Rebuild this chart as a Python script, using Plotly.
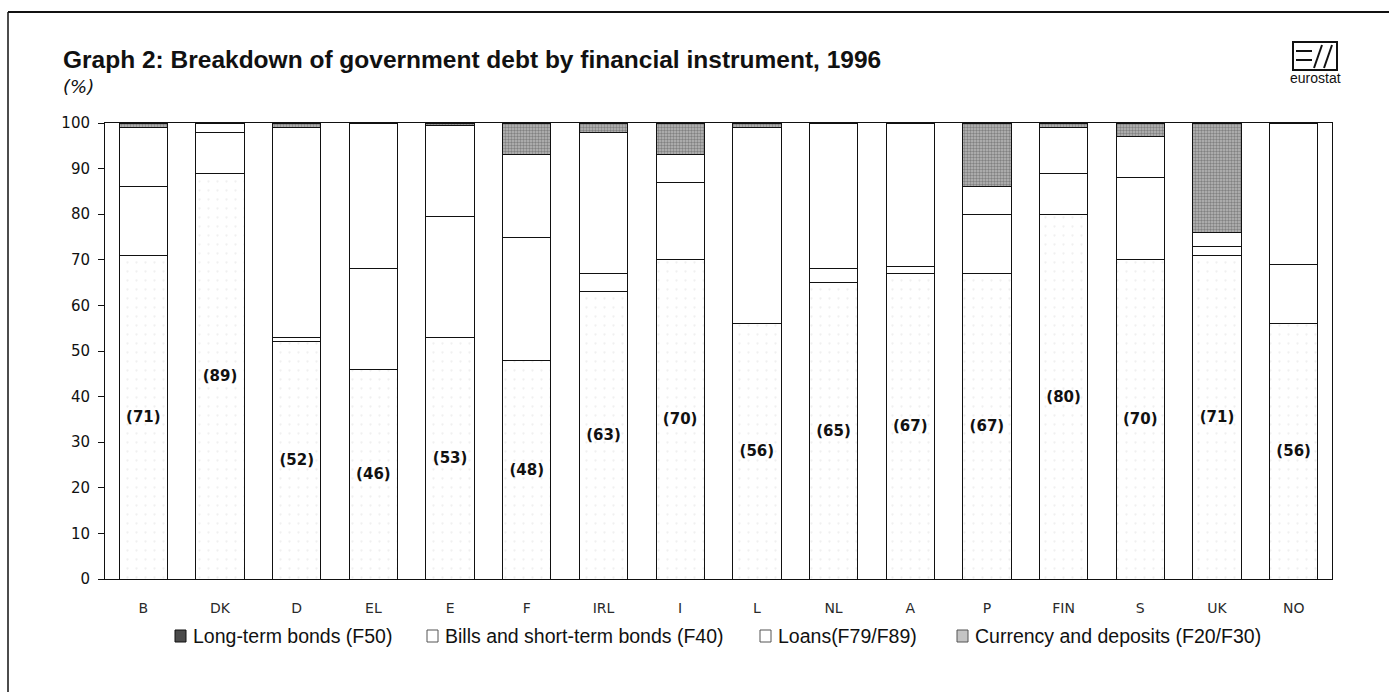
import plotly.graph_objects as go

# Government debt by financial instrument, 1996 (% of total)
countries = ["B", "DK", "D", "EL", "E", "F", "IRL", "I", "L", "NL", "A", "P", "FIN", "S", "UK", "NO"]
long_term_bonds = [71, 89, 52, 46, 53, 48, 63, 70, 56, 65, 67, 67, 80, 70, 71, 56]
bills_short_term = [15, 9, 1, 22, 26.5, 27, 4, 17, 0, 3, 1.5, 13, 9, 18, 2, 13]
loans = [13, 2, 46, 32, 20, 18, 31, 6, 43, 32, 31.5, 6, 10, 9, 3, 31]
currency_deposits = [1, 0, 1, 0, 0.5, 7, 2, 7, 1, 0, 0, 14, 1, 3, 24, 0]

legend_names = [
    "Long-term bonds (F50)",
    "Bills and short-term bonds (F40)",
    "Loans(F79/F89)",
    "Currency and deposits (F20/F30)",
]

W, H = 1389, 693
L, R, T, B = 105, 57, 123, 114
PW, PH = W - L - R, H - T - B


def px(x):
    return (x - L) / PW


def py(y):
    return (H - B - y) / PH


INK = "#111111"
outline = dict(color=INK, width=1)
ltb_pattern = dict(shape=".", fgcolor="#e2e2e2", bgcolor="white", size=9, solidity=0.05)
cur_pattern = dict(shape=".", fgcolor="#4a4a4a", bgcolor="#b8b8b8", size=3, solidity=0.5)

fig = go.Figure()

fig.add_trace(go.Bar(
    x=countries, y=long_term_bonds, name=legend_names[0],
    marker=dict(color="white", line=outline, pattern=ltb_pattern),
    text=[f"({v})" for v in long_term_bonds], textposition="inside",
    insidetextanchor="middle", textangle=0,
    textfont=dict(family="DejaVu Sans", size=15, color=INK, weight="bold"),
))
fig.add_trace(go.Bar(
    x=countries, y=bills_short_term, name=legend_names[1],
    marker=dict(color="white", line=outline),
))
fig.add_trace(go.Bar(
    x=countries, y=loans, name=legend_names[2],
    marker=dict(color="white", line=outline),
))
fig.add_trace(go.Bar(
    x=countries, y=currency_deposits, name=legend_names[3],
    marker=dict(color="#b0b0b0", line=outline, pattern=cur_pattern),
))

shapes = [
    # page frame
    dict(type="line", x0=px(8), x1=px(1389), y0=py(12), y1=py(12), line=dict(color=INK, width=2)),
    dict(type="line", x0=px(8), x1=px(8), y0=py(12), y1=py(692), line=dict(color=INK, width=1.5)),
    # eurostat logo
    dict(type="rect", x0=px(1293), x1=px(1337), y0=py(70), y1=py(42), line=dict(color=INK, width=2)),
    dict(type="line", x0=px(1296), x1=px(1312), y0=py(51), y1=py(51), line=dict(color=INK, width=2)),
    dict(type="line", x0=px(1296), x1=px(1312), y0=py(60), y1=py(60), line=dict(color=INK, width=2)),
    dict(type="line", x0=px(1314), x1=px(1322), y0=py(68), y1=py(45), line=dict(color=INK, width=2)),
    dict(type="line", x0=px(1324), x1=px(1332), y0=py(68), y1=py(45), line=dict(color=INK, width=2)),
]
for s in shapes:
    s.update(xref="paper", yref="paper")

annotations = [
    dict(text="<b>Graph 2: Breakdown of government debt by financial instrument, 1996</b>",
         x=px(61), y=py(59), xanchor="left", yanchor="middle",
         font=dict(family="Liberation Sans", size=24.5, color=INK)),
    dict(text="<i>(%)</i>", x=px(61), y=py(87), xanchor="left", yanchor="middle",
         font=dict(family="DejaVu Sans", size=18, color=INK)),
    dict(text="eurostat", x=px(1315), y=py(78), xanchor="center", yanchor="middle",
         font=dict(family="Liberation Sans", size=14, color=INK)),
]

# Key: swatch + label for each instrument
LEG_Y = 636
legend_items = [
    (175, dict(fillcolor="#4a4a4a", line=dict(color=INK, width=1))),
    (427, dict(fillcolor="white", line=dict(color="#555555", width=1))),
    (760, dict(fillcolor="white", line=dict(color="#555555", width=1))),
    (957, dict(fillcolor="#c4c4c4", line=dict(color="#555555", width=1))),
]
for name, (sx, style) in zip(legend_names, legend_items):
    sw = dict(type="rect", xref="paper", yref="paper",
              x0=px(sx), x1=px(sx + 11), y0=py(LEG_Y + 6), y1=py(LEG_Y - 6))
    sw.update(style)
    shapes.append(sw)
    annotations.append(dict(text=name, x=px(sx + 16), y=py(LEG_Y), xanchor="left", yanchor="middle",
                            font=dict(family="Liberation Sans", size=19.5, color=INK)))
for a in annotations:
    a.update(xref="paper", yref="paper", showarrow=False)

fig.update_layout(
    width=W, height=H,
    margin=dict(l=L, r=R, t=T, b=B),
    paper_bgcolor="white", plot_bgcolor="white",
    barmode="stack", bargap=0.37, showlegend=False,
    font=dict(family="DejaVu Sans", color=INK),
    xaxis=dict(
        showline=True, linecolor=INK, linewidth=1, mirror=True,
        ticks="", showgrid=False, ticklabelstandoff=16,
        tickfont=dict(family="DejaVu Sans", size=14, color="#2a2a2a"),
    ),
    yaxis=dict(
        range=[0, 100], dtick=10, showline=True, linecolor=INK, linewidth=1,
        mirror=True, ticks="outside", ticklen=6, tickcolor=INK,
        showgrid=False, zeroline=False, ticklabelstandoff=5,
        tickfont=dict(family="DejaVu Sans", size=15, color=INK),
    ),
    shapes=shapes,
    annotations=annotations,
)

fig.write_html("out.html")
